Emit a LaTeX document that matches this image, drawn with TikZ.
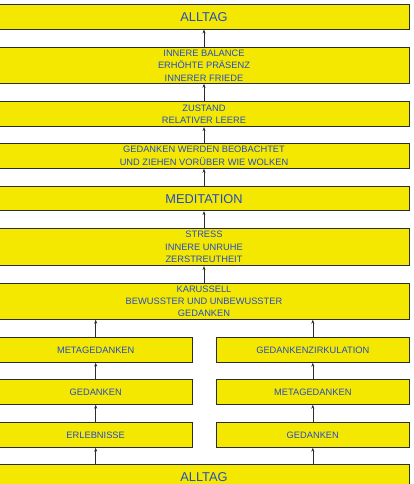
\documentclass[tikz,border=0pt]{standalone}
\usepackage{fontspec}
\setmainfont{Liberation Sans}
\usetikzlibrary{arrows.meta}
\definecolor{boxyellow}{RGB}{245,232,0}
\definecolor{txtblue}{RGB}{35,75,200}
\definecolor{edge}{RGB}{45,45,40}
\begin{document}
\begin{tikzpicture}[x=1pt,y=-1pt,
  box/.style={draw=edge,line width=0.8pt,fill=boxyellow,inner sep=0pt,align=center,
    text=txtblue,font=\fontsize{9.3}{12.3}\selectfont},
  wide/.style={box,minimum width=410pt},
  half/.style={box,minimum width=193pt},
  big/.style={font=\fontsize{12.8}{14}\selectfont},
  arr/.style={draw=edge,line width=0.6pt,-{Stealth[length=4pt,width=3pt]}}]
\useasboundingbox (0,0) rectangle (413,484);
\clip (0,0) rectangle (413,484);
\node[wide,big,minimum height=24.7pt] (top) at (204,16.7) {ALLTAG};
\node[wide,minimum height=35.6pt] (bal) at (204,65.5) {INNERE BALANCE\\ERHÖHTE PRÄSENZ\\INNERER FRIEDE};
\node[wide,minimum height=25pt] (zus) at (204,114.2) {ZUSTAND\\RELATIVER LEERE};
\node[wide,minimum height=25pt] (geb) at (204,155.8) {GEDANKEN WERDEN BEOBACHTET\\UND ZIEHEN VORÜBER WIE WOLKEN};
\node[wide,big,minimum height=24pt] (med) at (204,198.7) {MEDITATION};
\node[wide,minimum height=37.4pt] (str) at (204,247) {STRESS\\INNERE UNRUHE\\ZERSTREUTHEIT};
\node[wide,minimum height=36pt] (kar) at (204,301.3) {KARUSSELL\\BEWUSSTER UND UNBEWUSSTER\\GEDANKEN};
\node[half,minimum height=25pt] (lmeta) at (95.7,349.8) {METAGEDANKEN};
\node[half,minimum height=25pt] (lged) at (95.7,391.8) {GEDANKEN};
\node[half,minimum height=25pt] (lerl) at (95.7,434.8) {ERLEBNISSE};
\node[box,minimum width=192.3pt,minimum height=25pt] (rzir) at (312.8,349.8) {GEDANKENZIRKULATION};
\node[box,minimum width=192.3pt,minimum height=25pt] (rmeta) at (312.8,391.8) {METAGEDANKEN};
\node[box,minimum width=192.3pt,minimum height=25pt] (rged) at (312.8,434.8) {GEDANKEN};
\node[wide,big,minimum height=25pt] (bot) at (204,476.8) {ALLTAG};
\draw[arr] (bal.north) -- (top.south);
\draw[arr] (zus.north) -- (bal.south);
\draw[arr] (geb.north) -- (zus.south);
\draw[arr] (med.north) -- (geb.south);
\draw[arr] (str.north) -- (med.south);
\draw[arr] (kar.north) -- (str.south);
\draw[arr] (lmeta.north) -- (lmeta.north |- kar.south);
\draw[arr] (rzir.north) -- (rzir.north |- kar.south);
\draw[arr] (lged.north) -- (lmeta.south);
\draw[arr] (lerl.north) -- (lged.south);
\draw[arr] (rmeta.north) -- (rzir.south);
\draw[arr] (rged.north) -- (rmeta.south);
\draw[arr] (lerl.south |- bot.north) -- (lerl.south);
\draw[arr] (rged.south |- bot.north) -- (rged.south);
\end{tikzpicture}
\end{document}
